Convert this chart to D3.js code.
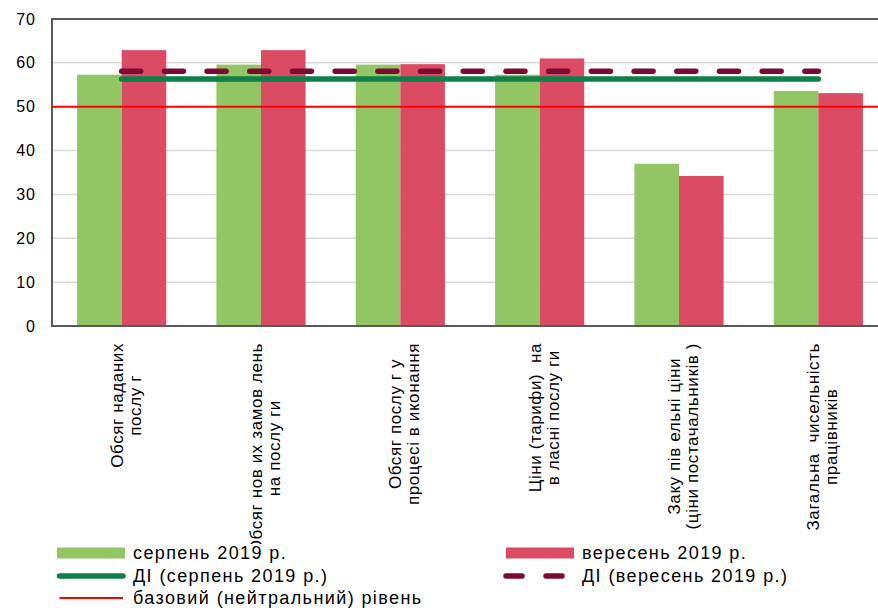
<!DOCTYPE html>
<html>
<head>
<meta charset="utf-8">
<script src="https://cdn.jsdelivr.net/npm/d3@7"></script>
<style>
  body { margin: 0; background: #fff; }
  text { font-family: "Liberation Sans", Arial, sans-serif; fill: #000; white-space: pre; }
</style>
</head>
<body>
<div class="chart"></div>
<script>
// categories (each label split in two lines as in the source)
const categories = [
  ["Обсяг наданих", "послу г"],
  ["Обсяг нов их замов лень", "на послу ги"],
  ["Обсяг послу г у", "процесі в иконання"],
  ["Ціни (тарифи)  на", "в ласні послу ги"],
  ["Заку пів ельні ціни", "(ціни постачальників )"],
  ["Загальна  чисельність", "працівників"]
];
const augValues = [57.3, 59.6, 59.6, 57.3, 37.0, 53.6];
const sepValues = [62.9, 62.9, 59.7, 61.0, 34.2, 53.1];
const diAug = [56.3, 56.3, 56.3, 56.3, 56.3, 56.3];
const diSep = [58.1, 58.1, 58.1, 58.1, 58.1, 58.1];
const baseLevel = 50;
const yTicks = [0, 10, 20, 30, 40, 50, 60, 70];
const legendLabels = ["серпень 2019 р.", "вересень 2019 р.", "ДІ (серпень 2019 р.)", "ДІ (вересень 2019 р.)", "базовий (нейтральний) рівень"];

const width = 878;
const height = 610;
const plot = { left: 52, right: 888, top: 19, bottom: 326 };

const colGreen = "#92c664";
const colRed = "#db4c64";
const colDiGreen = "#0e7f48";
const colDiRed = "#7d0a35";

const svg = d3.select(".chart").append("svg")
  .attr("width", width)
  .attr("height", height);

const x = d3.scaleBand()
  .domain(d3.range(categories.length))
  .range([plot.left, plot.right])
  .paddingInner(0.36)
  .paddingOuter(0.18);

const xSub = d3.scaleBand()
  .domain([0, 1])
  .range([0, x.bandwidth()]);

const y = d3.scaleLinear()
  .domain([0, 70])
  .range([plot.bottom, plot.top]);

const center = i => x(i) + x.bandwidth() / 2;

// gridlines
svg.append("g")
  .selectAll("line")
  .data(yTicks.filter(t => t > 0 && t < 70))
  .join("line")
  .attr("x1", plot.left)
  .attr("x2", plot.right)
  .attr("y1", d => y(d))
  .attr("y2", d => y(d))
  .attr("stroke", "#d9d9d9")
  .attr("stroke-width", 1.5);

// bars
const series = [augValues, sepValues];
const colors = [colGreen, colRed];
series.forEach((vals, s) => {
  svg.append("g")
    .selectAll("rect")
    .data(vals)
    .join("rect")
    .attr("x", (d, i) => x(i) + xSub(s))
    .attr("y", d => y(d))
    .attr("width", xSub.bandwidth())
    .attr("height", d => y(0) - y(d))
    .attr("fill", colors[s]);
});

// frame
svg.append("rect")
  .attr("x", plot.left)
  .attr("y", plot.top)
  .attr("width", plot.right - plot.left)
  .attr("height", plot.bottom - plot.top)
  .attr("fill", "none")
  .attr("stroke", "#595959")
  .attr("stroke-width", 2);

// neutral level
svg.append("line")
  .attr("x1", plot.left)
  .attr("x2", plot.right)
  .attr("y1", y(baseLevel))
  .attr("y2", y(baseLevel))
  .attr("stroke", "#ff0000")
  .attr("stroke-width", 2);

// DI lines
const line = d3.line()
  .x((d, i) => center(i))
  .y(d => y(d));

svg.append("path")
  .datum(diSep)
  .attr("d", line)
  .attr("fill", "none")
  .attr("stroke", colDiRed)
  .attr("stroke-width", 5.5)
  .attr("stroke-linecap", "round")
  .attr("stroke-dasharray", "19 23.7");

svg.append("path")
  .datum(diAug)
  .attr("d", line)
  .attr("fill", "none")
  .attr("stroke", colDiGreen)
  .attr("stroke-width", 5.5)
  .attr("stroke-linecap", "round");

// y axis labels
svg.append("g")
  .selectAll("text")
  .data(yTicks)
  .join("text")
  .attr("x", 36)
  .attr("y", d => y(d))
  .attr("dy", "0.35em")
  .attr("text-anchor", "end")
  .attr("font-size", 16)
  .attr("letter-spacing", 1)
  .text(d => d);

// category labels, rotated, top-aligned under the axis
const labelTop = 343;
const lineH = 18;
categories.forEach((lines, i) => {
  const g = svg.append("g");
  const texts = g.selectAll("text")
    .data(lines)
    .join("text")
    .attr("font-size", 17)
    .attr("letter-spacing", 0.6)
    .attr("text-anchor", "middle")
    .text(d => d);
  const maxLen = d3.max(texts.nodes(), n => n.getComputedTextLength());
  g.attr("transform", `translate(${center(i) + 1},${labelTop + maxLen / 2}) rotate(-90)`);
  texts.attr("x", 0).attr("y", (d, j) => j * lineH);
});

// legend (white box covers the overflowing label)
const lg = svg.append("g");
lg.append("rect")
  .attr("x", 40)
  .attr("y", 544)
  .attr("width", width - 40)
  .attr("height", height - 544)
  .attr("fill", "#fff");

const legendItems = [
  { label: legendLabels[0], type: "box", color: colGreen, x: 57, y: 553 },
  { label: legendLabels[1], type: "box", color: colRed, x: 506, y: 553 },
  { label: legendLabels[2], type: "line", color: colDiGreen, x: 57, y: 576 },
  { label: legendLabels[3], type: "dash", color: colDiRed, x: 506, y: 576 },
  { label: legendLabels[4], type: "thin", color: "#ff0000", x: 57, y: 598 }
];

legendItems.forEach(it => {
  if (it.type === "box") {
    lg.append("rect")
      .attr("x", it.x)
      .attr("y", it.y - 5.5)
      .attr("width", 68)
      .attr("height", 11)
      .attr("fill", it.color);
  } else {
    lg.append("line")
      .attr("x1", it.type === "dash" ? it.x : it.x + 2.5)
      .attr("x2", it.x + 66)
      .attr("y1", it.y)
      .attr("y2", it.y)
      .attr("stroke", it.color)
      .attr("stroke-width", it.type === "thin" ? 2 : 5.5)
      .attr("stroke-linecap", it.type === "thin" ? "butt" : "round")
      .attr("stroke-dasharray", it.type === "dash" ? "16 24" : null);
  }
  lg.append("text")
    .attr("x", it.x + 76)
    .attr("y", it.y)
    .attr("dy", "0.35em")
    .attr("font-size", 18)
    .attr("letter-spacing", 1.4)
    .text(it.label);
});
</script>
</body>
</html>
